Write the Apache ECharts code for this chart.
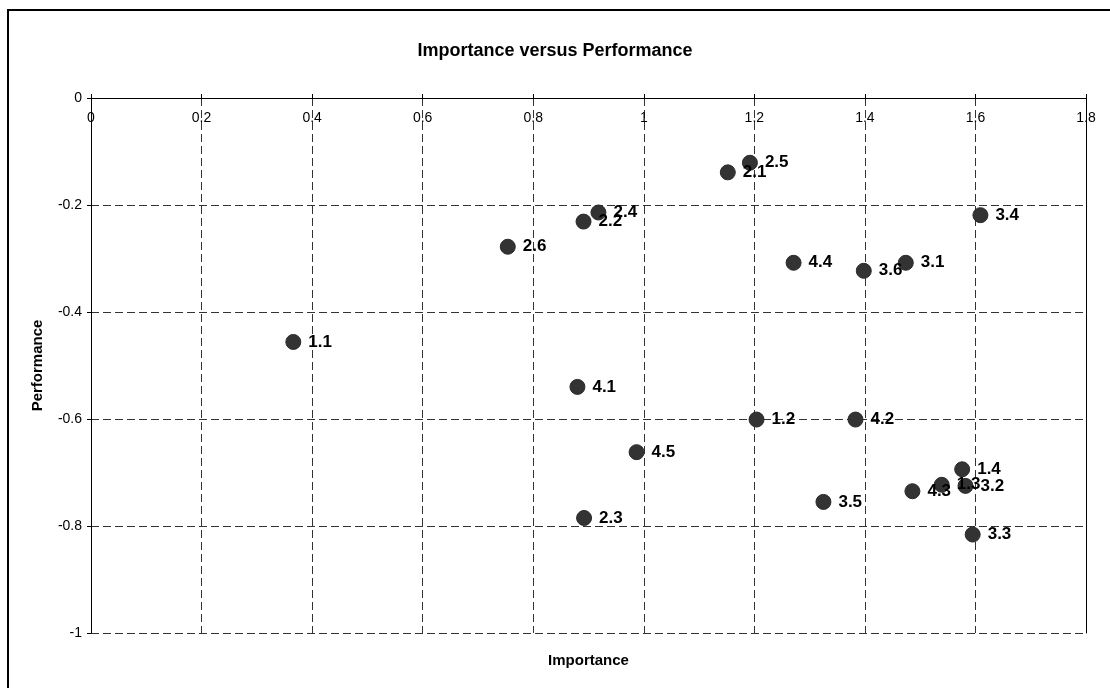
<!DOCTYPE html>
<html>
<head>
<meta charset="utf-8">
<script src="https://cdn.jsdelivr.net/npm/echarts@6/dist/echarts.min.js"></script>
<style>
  html, body { margin: 0; padding: 0; background: #fff; }
  #chart { width: 1110px; height: 688px; }
</style>
</head>
<body>
<div id="chart"></div>
<script>
// item codes and their importance / performance scores
var codes = ['1.1', '1.2', '1.3', '1.4', '2.1', '2.2', '2.3', '2.4', '2.5', '2.6',
             '3.1', '3.2', '3.3', '3.4', '3.5', '3.6', '4.1', '4.2', '4.3', '4.4', '4.5'];
var importance = [0.366, 1.204, 1.539, 1.576, 1.152, 0.891, 0.892, 0.918, 1.192, 0.754,
                  1.474, 1.582, 1.595, 1.609, 1.325, 1.398, 0.880, 1.383, 1.486, 1.271, 0.987];
var performance = [-0.456, -0.601, -0.723, -0.694, -0.139, -0.231, -0.785, -0.214, -0.121, -0.278,
                    -0.308, -0.725, -0.816, -0.219, -0.755, -0.323, -0.540, -0.601, -0.735, -0.308, -0.662];

var points = [];
for (var i = 0; i < codes.length; i++) {
    points.push([importance[i], performance[i], codes[i]]);
}

var font = 'Liberation Sans, Arial, sans-serif';
var dashed = {show: true, lineStyle: {color: '#333', width: 1, type: [8, 4]}};

var option = {
    animation: false,
    textStyle: {fontFamily: font},
    title: {
        text: 'Importance versus Performance',
        left: 'center',
        top: 37,
        textStyle: {fontSize: 18, fontWeight: 'bold', color: '#000', fontFamily: font}
    },
    graphic: [
        {
            type: 'rect',
            shape: {x: 8, y: 10, width: 1200, height: 800},
            style: {fill: 'none', stroke: '#000', lineWidth: 2},
            silent: true
        }
    ],
    grid: {left: 91, right: 24, top: 98, bottom: 55},
    xAxis: [
        {
            type: 'value',
            position: 'top',
            min: 0,
            max: 1.8,
            interval: 0.2,
            axisLine: {show: true, lineStyle: {color: '#000', width: 1}},
            axisTick: {show: true, length: 4, lineStyle: {color: '#000'}},
            axisLabel: {inside: true, margin: 13, fontSize: 14, color: '#000', fontFamily: font},
            splitLine: dashed
        },
        {
            type: 'value',
            position: 'bottom',
            min: 0,
            max: 1.8,
            name: 'Importance',
            nameLocation: 'middle',
            nameGap: 20,
            nameTextStyle: {fontSize: 15, fontWeight: 'bold', color: '#000', fontFamily: font},
            axisLine: {show: false},
            axisTick: {show: false},
            axisLabel: {show: false},
            splitLine: {show: false}
        }
    ],
    yAxis: [
        {
            type: 'value',
            min: -1,
            max: 0,
            interval: 0.2,
            name: 'Performance',
            nameLocation: 'middle',
            nameGap: 46,
            nameTextStyle: {fontSize: 15, fontWeight: 'bold', color: '#000', fontFamily: font},
            axisLine: {show: true, onZero: false, lineStyle: {color: '#000', width: 1}},
            axisTick: {show: true, length: 4, lineStyle: {color: '#000'}},
            axisLabel: {margin: 9, fontSize: 14, color: '#000', fontFamily: font},
            splitLine: dashed
        },
        {
            type: 'value',
            position: 'right',
            min: -1,
            max: 0,
            axisLine: {show: true, onZero: false, lineStyle: {color: '#000', width: 1}},
            axisTick: {show: false},
            axisLabel: {show: false},
            splitLine: {show: false}
        }
    ],
    series: [
        {
            type: 'scatter',
            xAxisIndex: 0,
            yAxisIndex: 0,
            symbol: 'circle',
            symbolSize: 15,
            itemStyle: {color: '#333333', borderColor: '#2a2a2a', borderWidth: 1, opacity: 1},
            label: {
                show: true,
                position: 'right',
                distance: 7,
                formatter: function (p) { return p.data[2]; },
                fontSize: 17,
                fontWeight: 'bold',
                color: '#000',
                fontFamily: font
            },
            data: points
        }
    ]
};

var myChart = echarts.init(document.getElementById('chart'));
myChart.setOption(option);
</script>
</body>
</html>
